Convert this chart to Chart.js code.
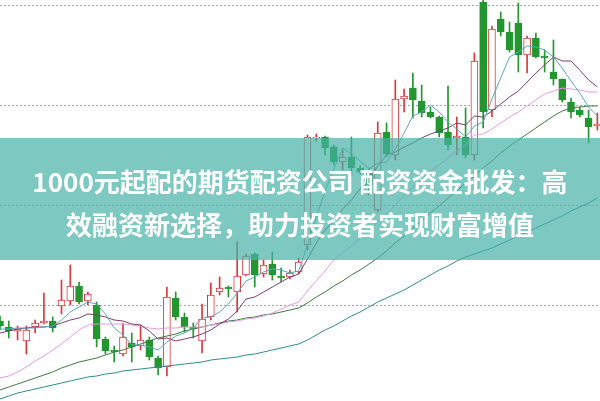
<!DOCTYPE html>
<html>
<head>
<meta charset="utf-8">
<script src="https://cdn.jsdelivr.net/npm/chart.js@4.4.1/dist/chart.umd.min.js"></script>
<style>
    html, body { margin: 0; padding: 0; background: #fff; }
    #wrap { position: relative; width: 600px; height: 401px; overflow: hidden; }
    #banner {
        position: absolute; left: 0; top: 138px; width: 600px; height: 122px;
        background: rgba(70, 176, 166, 0.7);
        color: #fff; text-align: center;
        font-family: "Noto Sans CJK SC", "Noto Sans", sans-serif;
        font-weight: bold; font-size: 26px; line-height: 43px;
        box-sizing: border-box; padding-top: 21px;
    }
</style>
</head>
<body>
<div id="wrap">
    <canvas id="myChart" width="600" height="401"></canvas>
    <div id="banner">1000元起配的期货配资公司 配资资金批发：高<br>效融资新选择，助力投资者实现财富增值</div>
</div>
<script>
// trading days (index only, no dates on the picture)
const days = [0,1,2,3,4,5,6,7,8,9,10,11,12,13,14,15,16,17,18,19,20,21,22,23,24,25,26,27,28,29,30,31,32,33,34,
    35,36,37,38,39,40,41,42,43,44,45,46,47,48,49,50,51,52,53,54,55,56,57,58,59,60,61,62,63,64,65,66,67,68];

const opens = [8.4,7.8,7.4,6.4,7.8,8.2,8.4,9.9,10.4,11.9,10.4,10.0,6.6,5.5,5.1,6.2,5.9,6.5,4.7,3.8,
    10.7,8.8,7.8,6.4,8.8,11.3,11.8,11.3,13.0,15.1,13.1,14.1,12.9,12.8,13.3,16.0,26.7,26.8,25.8,24.3,
    24.8,23.7,23.3,19.5,27.3,25.0,30.6,31.7,30.4,29.3,28.8,27.3,26.7,26.8,25.0,40.3,29.5,38.6,37.3,38.2,
    35.0,36.7,34.9,33.3,32.6,30.3,29.5,28.7,27.9];
const closes = [7.9,7.4,7.6,7.5,8.2,8.4,7.7,10.5,11.9,10.3,11.1,6.6,5.4,5.3,6.8,5.8,6.5,4.8,3.7,10.8,
    8.8,7.8,7.6,8.6,11.0,11.7,11.6,12.9,14.9,13.0,14.0,13.0,12.7,13.2,14.3,26.8,26.8,25.7,24.3,24.8,
    23.7,23.3,22.0,27.2,25.1,30.6,30.9,30.5,29.2,28.8,27.2,26.0,26.9,25.0,34.4,29.3,37.6,37.3,35.5,35.0,
    36.7,34.8,34.7,32.6,30.5,29.3,29.0,27.8,28.1];
const highs = [8.9,8.4,7.9,7.9,8.5,11.2,8.8,12.5,14.0,12.3,11.3,10.3,6.8,5.9,8.2,7.2,8.0,6.8,4.9,11.8,
    11.3,9.2,8.2,10.1,12.2,12.8,11.9,16.3,15.1,15.2,14.5,15.3,13.7,13.5,14.7,27.0,27.1,26.9,26.0,25.5,
    26.8,23.9,23.7,28.3,28.2,32.5,31.6,33.2,32.0,29.8,28.9,31.9,28.8,29.7,35.2,40.5,37.9,39.3,38.3,40.2,
    36.9,37.2,35.5,36.5,32.6,30.7,29.8,29.5,29.2];
const lows = [7.5,6.7,6.5,5.1,7.2,8.1,7.3,9.1,10.0,10.1,10.0,5.8,5.1,4.3,4.9,4.3,5.5,4.5,3.0,2.9,
    8.5,7.3,6.7,5.2,8.5,11.0,10.8,9.3,12.9,11.8,12.8,12.5,12.3,12.6,13.1,15.5,26.4,25.0,24.0,23.5,
    23.0,23.1,21.0,19.3,24.8,24.5,29.3,28.7,28.8,28.7,26.8,25.5,25.0,24.7,24.5,27.7,28.8,36.9,35.3,33.3,
    33.2,34.7,33.3,32.0,30.3,28.7,28.8,26.2,27.5];

// moving average lines
const ma5 = [7.6,7.6,7.7,7.7,7.7,7.8,7.9,8.5,9.3,9.8,10.3,10.1,9.1,7.7,7.0,6.0,6.0,5.8,5.5,6.3,
    6.9,7.2,7.7,8.7,8.8,9.3,10.1,11.2,12.4,12.8,13.3,13.6,13.5,13.2,13.4,16.0,18.8,21.4,23.6,25.7,
    25.1,24.4,23.6,24.2,24.3,25.6,27.2,28.9,29.3,30.0,29.3,28.3,27.6,26.8,27.9,28.3,30.6,32.7,34.8,35.3,
    35.9,35.8,35.5,34.8,33.7,32.4,31.2,29.8,28.9];
const ma10 = [7.2,7.4,7.6,7.7,7.8,7.8,7.9,8.2,8.5,8.7,9.1,9.0,8.8,8.5,8.4,8.1,8.0,7.4,6.6,6.7,
    6.4,6.6,6.8,7.1,7.5,8.1,8.6,9.4,10.6,10.8,11.3,11.8,12.3,12.8,13.1,14.6,16.2,17.5,18.4,19.6,
    20.5,21.6,22.5,23.9,25.0,25.3,25.8,26.2,26.7,27.1,27.4,27.7,28.2,28.0,28.9,28.8,29.4,30.1,30.8,31.4,
    32.3,33.2,34.0,34.8,34.4,34.4,33.5,32.5,31.8];
const ma20 = [2.7,2.9,3.3,3.8,4.4,4.9,5.5,6.1,6.8,7.5,8.0,8.1,8.1,8.1,8.1,8.0,7.9,7.7,7.6,7.7,
    7.7,7.8,7.8,7.8,8.0,8.1,8.3,8.4,8.6,8.7,8.9,9.2,9.6,10.0,10.3,11.4,12.4,13.4,14.5,15.2,
    15.9,16.7,17.4,18.3,19.1,20.0,21.0,21.8,22.6,23.4,24.0,24.7,25.4,26.0,27.0,27.1,27.6,28.2,28.8,29.3,
    29.9,30.5,31.1,31.4,31.7,31.6,31.5,31.3,31.3];
const ma60 = [1.5,1.8,2.1,2.4,2.7,3.0,3.3,3.7,4.0,4.3,4.5,4.7,5.0,5.3,5.5,5.8,6.1,6.4,6.7,6.9,
    7.1,7.4,7.6,7.8,8.0,8.2,8.4,8.5,8.7,8.8,9.0,9.1,9.3,9.5,9.7,10.2,10.8,11.3,11.9,12.4,
    13.0,13.5,14.1,14.7,15.4,16.2,16.9,17.7,18.4,19.2,19.9,20.7,21.4,22.2,22.9,23.7,24.4,25.2,25.9,26.5,
    27.1,27.7,28.3,28.9,29.4,29.7,29.8,29.9,29.9];
const ma120 = [0.6,0.9,1.2,1.4,1.6,1.8,2.0,2.2,2.4,2.6,2.8,2.9,3.1,3.2,3.4,3.5,3.6,3.7,3.8,3.9,
    4.0,4.1,4.2,4.3,4.5,4.6,4.7,4.8,5.0,5.1,5.3,5.5,5.7,5.9,6.1,6.5,7.0,7.5,7.9,8.4,
    8.9,9.3,9.8,10.3,10.7,11.1,11.5,12.0,12.5,13.0,13.5,13.9,14.4,14.8,15.1,15.4,15.7,16.1,16.5,16.9,
    17.3,17.7,18.1,18.5,18.9,19.4,19.8,20.2,20.7];

const gridValues = [10, 20, 30, 40];

const upColor = '#d8393c';
const downColor = '#23962f';

function isUp(i) {
    return closes[i] >= opens[i];
}

const ctx = document.getElementById('myChart');

new Chart(ctx, {
    data: {
        labels: days,
        datasets: [
            { type: 'line', label: 'MA5', data: ma5, borderColor: '#58a8bc', borderWidth: 1, pointRadius: 0, order: 0 },
            { type: 'line', label: 'MA10', data: ma10, borderColor: '#7b3f6c', borderWidth: 1, pointRadius: 0, order: 0 },
            { type: 'line', label: 'MA20', data: ma20, borderColor: '#e69ae6', borderWidth: 1, pointRadius: 0, order: 0 },
            { type: 'line', label: 'MA60', data: ma60, borderColor: '#3d7a3e', borderWidth: 1, pointRadius: 0, order: 0 },
            { type: 'line', label: 'MA120', data: ma120, borderColor: '#2d8c8c', borderWidth: 1, pointRadius: 0, order: 0 },
            {
                type: 'bar',
                label: 'body',
                data: opens.map((o, i) => [o, closes[i]]),
                grouped: false,
                barThickness: 7,
                borderWidth: 1,
                borderSkipped: false,
                backgroundColor: (c) => isUp(c.dataIndex) ? '#ffffff' : downColor,
                borderColor: (c) => isUp(c.dataIndex) ? upColor : downColor,
                order: 1,
            },
            {
                type: 'bar',
                label: 'wick',
                data: lows.map((l, i) => [l, highs[i]]),
                grouped: false,
                barThickness: 1,
                borderWidth: 0,
                backgroundColor: (c) => isUp(c.dataIndex) ? upColor : downColor,
                order: 2,
            },
        ],
    },
    options: {
        responsive: false,
        animation: false,
        layout: { padding: 0 },
        plugins: {
            legend: { display: false },
            tooltip: { enabled: false },
        },
        scales: {
            x: {
                type: 'linear',
                min: 0,
                max: 68.3,
                offset: false,
                grid: { offset: false },
                display: false,
            },
            y: {
                min: 0.4,
                max: 40.5,
                ticks: { display: false },
                grid: { color: '#a8a8a8', lineWidth: 1, drawTicks: false },
                border: { display: false, dash: [2, 2] },
                afterBuildTicks: (scale) => {
                    scale.ticks = gridValues.map((v) => ({ value: v }));
                },
            },
        },
    },
});
</script>
</body>
</html>
